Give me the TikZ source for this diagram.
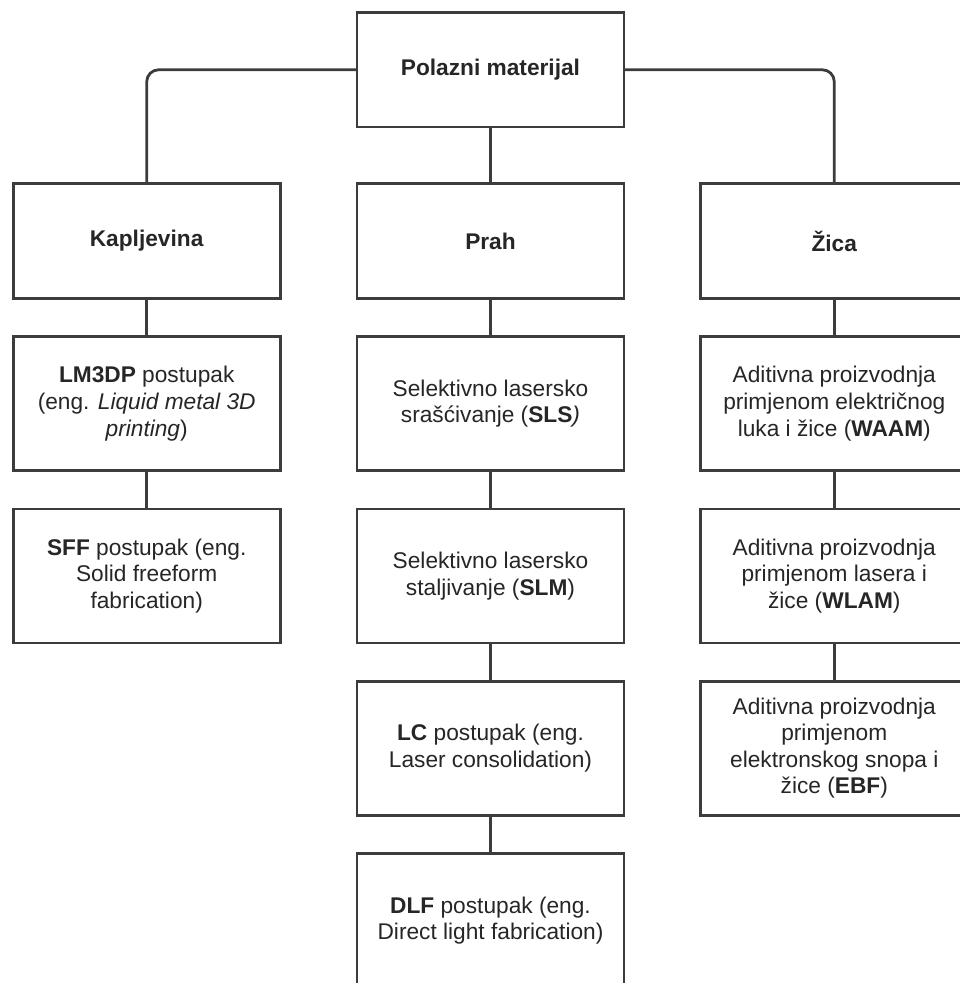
\documentclass[tikz,border=0pt]{standalone}
\usepackage{fontspec}
\setmainfont{Liberation Sans}
\usepackage{xcolor}
\usetikzlibrary{matrix}

\definecolor{linegray}{HTML}{3C3C3C}
\definecolor{textgray}{HTML}{262626}

\begin{document}
\begin{tikzpicture}[
		procbox/.style={draw=linegray, line width=2.8pt, fill=white, minimum width=267pt,
			minimum height=134pt, align=center, inner sep=0pt, outer sep=0pt,
			text=textgray, font=\fontsize{22.7pt}{26.6pt}\selectfont},
		headbox/.style={procbox, minimum height=114.5pt},
		link/.style={draw=linegray, line width=2.8pt}]
		\matrix (M) [row sep=35.5pt, column sep=74pt]{
			& \node[headbox] (pol) {\textbf{Polazni materijal}}; & \\[18.5pt]
			\node[headbox] (kap) {\textbf{Kapljevina}}; &
			\node[headbox] (prah) {\textbf{Prah}}; &
			\node[headbox] (zica) {\textbf{Žica}}; \\
			\node[procbox] (lm3dp) {\textbf{LM3DP} postupak\\(eng. \textit{Liquid metal 3D}\\\textit{printing})}; &
			\node[procbox] (sls) {Selektivno lasersko\\srašćivanje (\textbf{SLS}\textit{)}}; &
			\node[procbox] (waam) {Aditivna proizvodnja\\primjenom električnog\\luka i žice (\textbf{WAAM})}; \\
			\node[procbox] (sff) {\textbf{SFF} postupak (eng.\\Solid freeform\\fabrication)}; &
			\node[procbox] (slm) {Selektivno lasersko\\staljivanje (\textbf{SLM})}; &
			\node[procbox] (wlam) {Aditivna proizvodnja\\primjenom lasera i\\žice (\textbf{WLAM})}; \\
			& \node[procbox] (lc) {\textbf{LC} postupak (eng.\\Laser consolidation)}; &
			\node[procbox] (ebf) {Aditivna proizvodnja\\primjenom\\elektronskog snopa i\\žice (\textbf{EBF})}; \\
			& \node[procbox] (dlf) {\textbf{DLF} postupak (eng.\\Direct light fabrication)}; & \\
		};
		
		\draw[link, rounded corners=12pt] (pol.west) -| (kap.north);
		\draw[link, rounded corners=12pt] (pol.east) -| (zica.north);
		\draw[link] (pol.south) -- (prah.north);
		
		\draw[link] (kap.south) -- (lm3dp.north);
		\draw[link] (lm3dp.south) -- (sff.north);
		
		\draw[link] (prah.south) -- (sls.north);
		\draw[link] (sls.south) -- (slm.north);
		\draw[link] (slm.south) -- (lc.north);
		\draw[link] (lc.south) -- (dlf.north);
		
		\draw[link] (zica.south) -- (waam.north);
		\draw[link] (waam.south) -- (wlam.north);
		\draw[link] (wlam.south) -- (ebf.north);
		
		\pgfresetboundingbox
		\useasboundingbox ([xshift=-490.5pt,yshift=12.5pt]pol.north)
			rectangle ([xshift=469.5pt,yshift=-970.5pt]pol.north);
	\end{tikzpicture}
\end{document}
